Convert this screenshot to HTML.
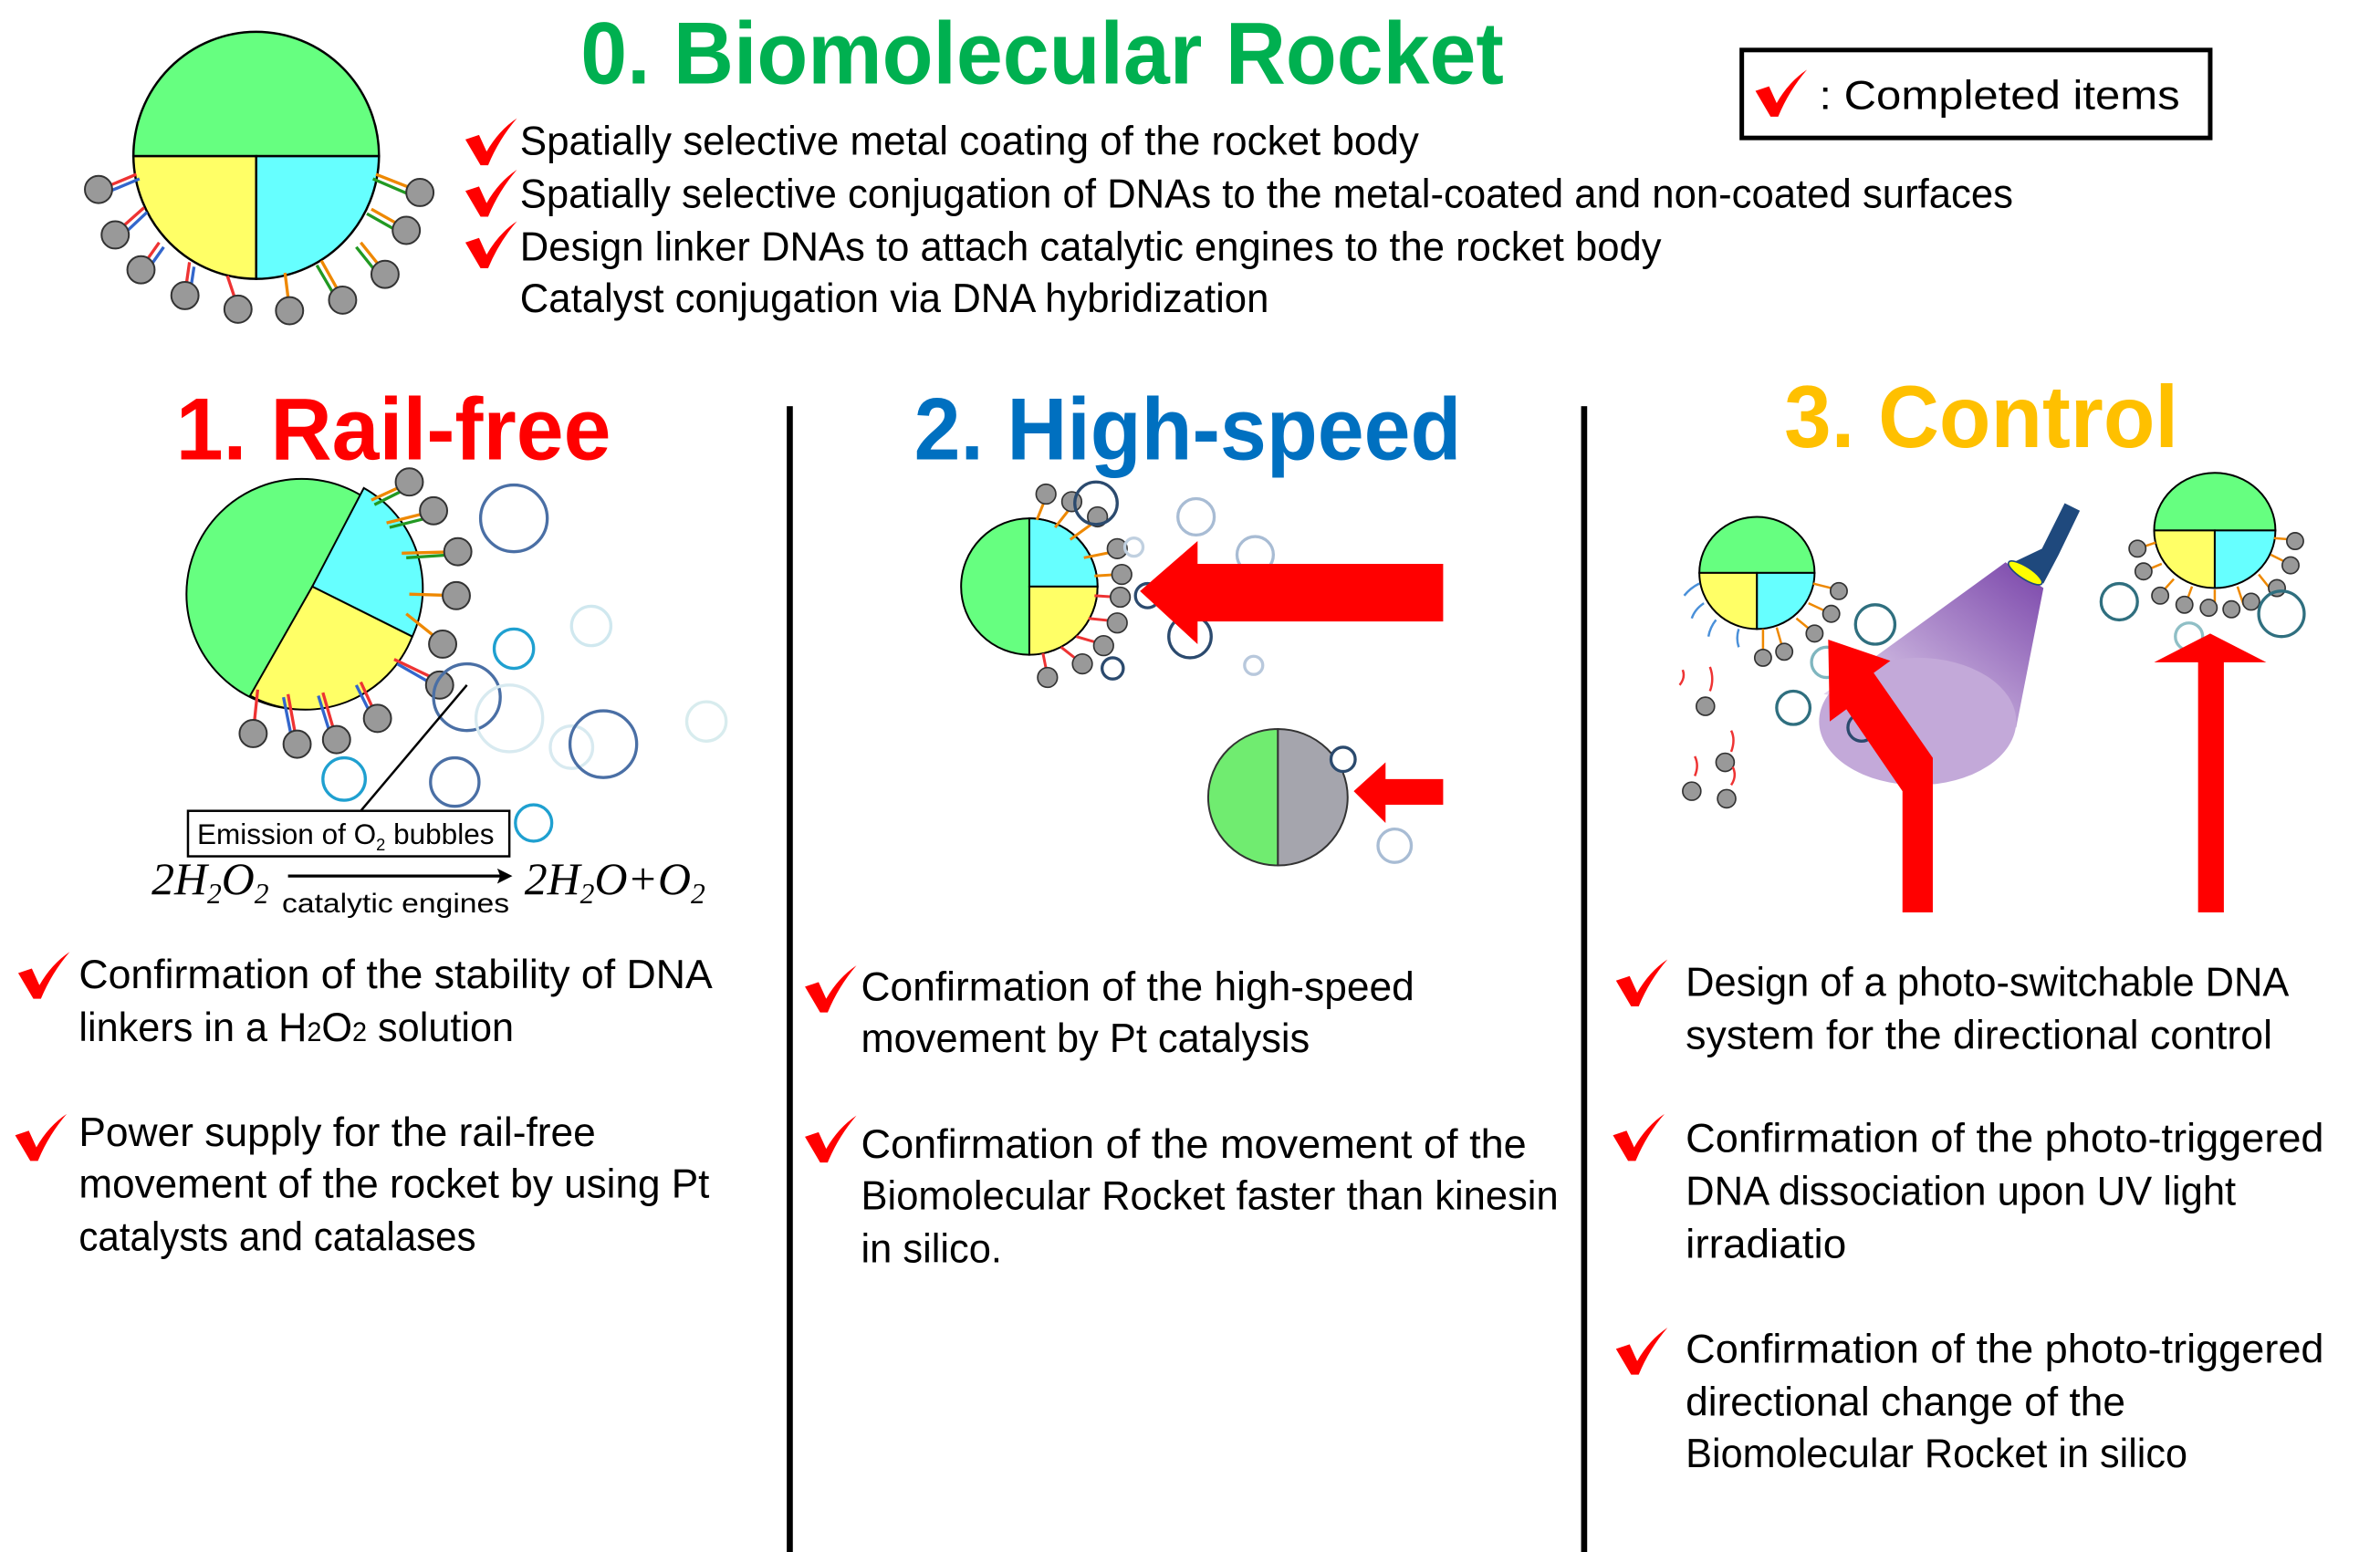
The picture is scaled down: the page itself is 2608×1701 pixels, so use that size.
<!DOCTYPE html>
<html><head><meta charset="utf-8"><style>
html,body{margin:0;padding:0;background:#fff;}
svg{display:block;}
text{font-family:"Liberation Sans",sans-serif;}
.b{font-size:27px;fill:#000;}
.t{font-weight:bold;}
</style></head><body>
<svg width="2608" height="1701" viewBox="0 0 1570 1024" preserveAspectRatio="none" xmlns="http://www.w3.org/2000/svg">
<defs>
<g id="ck"><path d="M0,14 L9,11 L14,22 Q22,8 34,0 Q22,14 15,31 L10,31 Z" fill="#f00"/></g>
<linearGradient id="beam" x1="1" y1="0" x2="0" y2="1"><stop offset="0" stop-color="#6a2fa0"/><stop offset="1" stop-color="#ece2f4"/></linearGradient>
</defs>
<rect width="1570" height="1024" fill="#fff"/>

<text x="383" y="55" class="t" font-size="58" fill="#00b050" textLength="609" lengthAdjust="spacingAndGlyphs">0. Biomolecular Rocket</text>
<rect x="1149" y="33" width="309" height="58" fill="none" stroke="#000" stroke-width="3"/>
<use href="#ck" x="1158" y="46"/>
<text x="1200" y="72" class="b" textLength="238" lengthAdjust="spacingAndGlyphs">: Completed items</text>

<use href="#ck" x="307" y="78"/>
<text x="343" y="102" class="b" textLength="593" lengthAdjust="spacingAndGlyphs">Spatially selective metal coating of the rocket body</text>
<use href="#ck" x="307" y="112"/>
<text x="343" y="137" class="b" textLength="985" lengthAdjust="spacingAndGlyphs">Spatially selective conjugation of DNAs to the metal-coated and non-coated surfaces</text>
<use href="#ck" x="307" y="146"/>
<text x="343" y="172" class="b" textLength="753" lengthAdjust="spacingAndGlyphs">Design linker DNAs to attach catalytic engines to the rocket body</text>
<text x="343" y="206" class="b" textLength="494" lengthAdjust="spacingAndGlyphs">Catalyst conjugation via DNA hybridization</text>

<g stroke="#000" stroke-width="1.5">
<path d="M88,103 A81,82 0 0 1 250,103 Z" fill="#66ff80"/>
<path d="M88,103 L169,103 L169,184 A81,82 0 0 1 88,103 Z" fill="#ffff66"/>
<path d="M250,103 L169,103 L169,184 A81,82 0 0 0 250,103 Z" fill="#66ffff"/>
</g>
<g stroke-width="2" fill="none">
<path d="M90,115 L66,125 M95,137 L77,153 M105,160 L93,177 M125,173 L122,194 M150,182 L157,203" stroke="#e33"/>
<path d="M92,118 L68,128 M97,140 L80,156 M108,163 L96,180 M128,176 L125,196" stroke="#36c"/>
<path d="M248,115 L276,126 M245,138 L268,151 M238,160 L254,180 M212,172 L226,197 M188,180 L191,204" stroke="#e80"/>
<path d="M246,118 L274,130 M242,141 L265,154 M235,163 L251,183 M209,175 L223,199" stroke="#292"/>
</g>
<g fill="#999" stroke="#333" stroke-width="1.2">
<circle cx="65" cy="125" r="9"/><circle cx="76" cy="155" r="9"/><circle cx="93" cy="178" r="9"/><circle cx="122" cy="195" r="9"/><circle cx="157" cy="204" r="9"/><circle cx="191" cy="205" r="9"/><circle cx="226" cy="198" r="9"/><circle cx="254" cy="181" r="9"/><circle cx="268" cy="152" r="9"/><circle cx="277" cy="127" r="9"/>
</g>

<rect x="519" y="268" width="4" height="756" fill="#000"/>
<rect x="1043" y="268" width="4" height="756" fill="#000"/>

<text x="116" y="303" class="t" font-size="58" fill="#f00" textLength="287" lengthAdjust="spacingAndGlyphs">1. Rail-free</text>
<text x="603" y="303" class="t" font-size="58" fill="#0070c0" textLength="361" lengthAdjust="spacingAndGlyphs">2. High-speed</text>
<text x="1177" y="295" class="t" font-size="58" fill="#ffc000" textLength="260" lengthAdjust="spacingAndGlyphs">3. Control</text>

<g stroke="#000" stroke-width="1.2">
<circle cx="199" cy="392" r="76" fill="#66ff80"/>
<path d="M206,387 L240,322 A76,76 0 0 1 272,420 Z" fill="#66ffff"/>
<path d="M206,387 L272,420 A76,76 0 0 1 165,459 Z" fill="#ffff66"/>
</g>
<g stroke-width="2" fill="none">
<path d="M245,330 L271,318 M255,345 L287,337 M265,365 L302,364 M270,392 L301,393 M268,405 L293,425" stroke="#e80"/>
<path d="M247,333 L269,322 M257,348 L285,341 M268,368 L298,366" stroke="#292"/>
<path d="M260,435 L285,447 M238,450 L249,474 M213,457 L222,488 M190,458 L196,491 M170,455 L167,484" stroke="#e33"/>
<path d="M262,438 L283,450 M235,452 L246,474 M210,459 L219,488 M187,460 L193,490" stroke="#36c"/>
</g>
<g fill="#999" stroke="#333" stroke-width="1.2">
<circle cx="270" cy="318" r="9"/><circle cx="286" cy="337" r="9"/><circle cx="302" cy="364" r="9"/><circle cx="301" cy="393" r="9"/><circle cx="292" cy="425" r="9"/><circle cx="290" cy="452" r="9"/><circle cx="249" cy="474" r="9"/><circle cx="222" cy="488" r="9"/><circle cx="196" cy="491" r="9"/><circle cx="167" cy="484" r="9"/>
</g>
<g fill="none" stroke-width="2">
<circle cx="339" cy="342" r="22" stroke="#4a6fa5"/>
<circle cx="339" cy="428" r="13" stroke="#1fa0d0"/>
<circle cx="390" cy="413" r="13" stroke="#d0e8ef"/>
<circle cx="308" cy="460" r="22" stroke="#4a6fa5"/>
<circle cx="336" cy="474" r="22" stroke="#d8eaf0"/>
<circle cx="377" cy="493" r="14" stroke="#d8eaf0"/>
<circle cx="398" cy="491" r="22" stroke="#4a6fa5"/>
<circle cx="466" cy="476" r="13" stroke="#d8ecee"/>
<circle cx="227" cy="514" r="14" stroke="#1fa0d0"/>
<circle cx="300" cy="516" r="16" stroke="#4a6fa5"/>
<circle cx="352" cy="543" r="12" stroke="#1fa0d0"/>
</g>
<line x1="308" y1="452" x2="238" y2="535" stroke="#000" stroke-width="1.5"/>
<rect x="124" y="535" width="212" height="30" fill="#fff" stroke="#000" stroke-width="1.5"/>
<text x="130" y="557" font-size="19" textLength="196" lengthAdjust="spacingAndGlyphs">Emission of O<tspan font-size="11" dy="4">2</tspan><tspan dy="-4"> bubbles</tspan></text>
<text x="100" y="590" font-style="italic" font-size="30" style="font-family:'Liberation Serif',serif">2H<tspan font-size="19" dy="6">2</tspan><tspan dy="-6">O</tspan><tspan font-size="19" dy="6">2</tspan></text>
<line x1="190" y1="578" x2="332" y2="578" stroke="#000" stroke-width="2"/>
<path d="M338,578 L328,573 L330,578 L328,583 Z" fill="#000"/>
<text x="186" y="602" font-size="18" textLength="150" lengthAdjust="spacingAndGlyphs">catalytic engines</text>
<text x="346" y="590" font-style="italic" font-size="30" style="font-family:'Liberation Serif',serif">2H<tspan font-size="19" dy="6">2</tspan><tspan dy="-6">O+O</tspan><tspan font-size="19" dy="6">2</tspan></text>

<g stroke="#000" stroke-width="1.2">
<circle cx="679" cy="387" r="45" fill="#66ff80"/>
<path d="M679,342 A45,45 0 0 1 724,387 L679,387 Z" fill="#66ffff"/>
<path d="M724,387 A45,45 0 0 1 679,432 L679,387 Z" fill="#ffff66"/>
</g>
<g stroke-width="1.8" fill="none">
<path d="M684,343 L690,328 M696,348 L707,334 M706,356 L724,343 M715,368 L735,364 M722,380 L738,379" stroke="#e80"/>
<path d="M722,393 L737,394 M718,408 L737,410 M710,420 L727,425 M700,427 L714,438 M688,431 L691,446" stroke="#e33"/>
</g>
<g fill="#999" stroke="#333" stroke-width="1">
<circle cx="690" cy="326" r="6.5"/><circle cx="707" cy="331" r="6.5"/><circle cx="724" cy="341" r="6.5"/><circle cx="737" cy="362" r="6.5"/><circle cx="740" cy="379" r="6.5"/><circle cx="739" cy="394" r="6.5"/><circle cx="737" cy="411" r="6.5"/><circle cx="728" cy="426" r="6.5"/><circle cx="714" cy="438" r="6.5"/><circle cx="691" cy="447" r="6.5"/>
</g>
<g fill="none" stroke-width="2">
<circle cx="723" cy="332" r="14" stroke="#2b4a6e"/>
<circle cx="789" cy="341" r="12" stroke="#a8bcd4"/>
<circle cx="828" cy="366" r="12" stroke="#a8bcd4"/>
<circle cx="748" cy="361" r="6" stroke="#c0d0e0"/>
<circle cx="757" cy="393" r="8" stroke="#2b4a6e"/>
<circle cx="785" cy="420" r="14" stroke="#2b4a6e"/>
<circle cx="827" cy="439" r="6" stroke="#b8c8dc"/>
<circle cx="734" cy="441" r="7" stroke="#2b4a6e"/>
</g>
<path d="M752,390 L790,357 L790,372 L952,372 L952,410 L790,410 L790,425 Z" fill="#f00"/>
<g stroke="#333" stroke-width="1.2">
<path d="M843,481 A46,45 0 0 0 843,571 Z" fill="#70ec70"/>
<path d="M843,481 A46,45 0 0 1 843,571 Z" fill="#a5a5ad"/>
</g>
<circle cx="886" cy="501" r="8" fill="#fff" stroke="#2b4a6e" stroke-width="2"/>
<circle cx="920" cy="558" r="11" fill="none" stroke="#a8bcd4" stroke-width="2"/>
<path d="M893,522 L914,503 L914,514 L952,514 L952,531 L914,531 L914,543 Z" fill="#f00"/>

<!-- Control -->
<path d="M1323,371 L1348,388 L1330,480 L1203,458 Z" fill="url(#beam)" opacity="0.9"/>
<ellipse cx="1265" cy="476" rx="65" ry="42" fill="#c3a9d9"/>
<path d="M1362,332 L1372,337 L1358,366 L1348,385 L1326,372 L1347,362 Z" fill="#1f497d"/>
<ellipse cx="1336" cy="378" rx="13" ry="4" transform="rotate(33 1336 378)" fill="#ffff00" stroke="#1f497d"/>
<g stroke="#000" stroke-width="1.2">
<path d="M1121,378 A38,37 0 0 1 1197,378 Z" fill="#66ff80"/>
<path d="M1121,378 L1159,378 L1159,415 A38,37 0 0 1 1121,378 Z" fill="#ffff66"/>
<path d="M1197,378 L1159,378 L1159,415 A38,37 0 0 0 1197,378 Z" fill="#66ffff"/>
</g>
<g stroke="#4a90d9" stroke-width="1.5" fill="none">
<path d="M1121,385 q-6,3 -10,8 M1124,398 q-6,4 -8,10 M1132,409 q-4,5 -5,11 M1147,415 q-2,6 0,12"/>
</g>
<g stroke="#e80" stroke-width="1.5" fill="none">
<path d="M1196,385 L1212,389 M1193,398 L1208,405 M1185,408 L1196,417 M1172,414 L1176,428 M1163,415 L1163,432"/>
</g>
<g fill="#999" stroke="#333" stroke-width="1">
<circle cx="1213" cy="390" r="5.5"/><circle cx="1208" cy="405" r="5.5"/><circle cx="1197" cy="418" r="5.5"/><circle cx="1177" cy="430" r="5.5"/><circle cx="1163" cy="434" r="5.5"/>
<circle cx="1125" cy="466" r="6"/><circle cx="1138" cy="503" r="6"/><circle cx="1116" cy="522" r="6"/><circle cx="1139" cy="527" r="6"/>
</g>
<g stroke="#e33" stroke-width="1.5" fill="none">
<path d="M1108,452 q4,-5 2,-10 M1128,456 q3,-8 0,-16 M1142,496 q3,-8 0,-14 M1118,512 q3,-7 0,-13 M1142,518 q4,-6 1,-12"/>
</g>
<g stroke="#000" stroke-width="1.2">
<path d="M1421,350 A40,38 0 0 1 1501,350 Z" fill="#66ff80"/>
<path d="M1421,350 L1461,350 L1461,388 A40,38 0 0 1 1421,350 Z" fill="#ffff66"/>
<path d="M1501,350 L1461,350 L1461,388 A40,38 0 0 0 1501,350 Z" fill="#66ffff"/>
</g>
<g stroke="#e80" stroke-width="1.5" fill="none">
<path d="M1422,358 L1410,362 M1426,372 L1414,377 M1434,382 L1425,392 M1446,387 L1442,398 M1461,389 L1461,400 M1476,387 L1480,399 M1490,379 L1498,389 M1498,366 L1510,372 M1500,355 L1512,356"/>
</g>
<g fill="#999" stroke="#333" stroke-width="1">
<circle cx="1410" cy="362" r="5.5"/><circle cx="1414" cy="377" r="5.5"/><circle cx="1425" cy="393" r="5.5"/><circle cx="1441" cy="399" r="5.5"/><circle cx="1457" cy="401" r="5.5"/><circle cx="1472" cy="402" r="5.5"/><circle cx="1485" cy="397" r="5.5"/><circle cx="1502" cy="388" r="5.5"/><circle cx="1511" cy="373" r="5.5"/><circle cx="1514" cy="357" r="5.5"/>
</g>
<g fill="none" stroke-width="2">
<circle cx="1237" cy="412" r="13" stroke="#2f6f7f"/>
<circle cx="1205" cy="437" r="10" stroke="#7fb6bf"/>
<circle cx="1183" cy="467" r="11" stroke="#2f6f7f"/>
<circle cx="1228" cy="480" r="9" stroke="#2b4a6e"/>
<circle cx="1398" cy="397" r="12" stroke="#2f6f7f"/>
<circle cx="1505" cy="405" r="15" stroke="#2f6f7f"/>
<circle cx="1444" cy="420" r="9" stroke="#8fbfc6"/>
</g>
<path d="M1255,602 L1255,522 L1218,468 L1207,476 L1206,422 L1247,436 L1236,444 L1275,500 L1275,602 Z" fill="#f00"/>
<path d="M1450,602 L1450,437 L1421,437 L1458,418 L1495,437 L1467,437 L1467,602 Z" fill="#f00"/>

<use href="#ck" x="12" y="628"/>
<text x="52" y="652" class="b" textLength="418" lengthAdjust="spacingAndGlyphs">Confirmation of the stability of DNA</text>
<text x="52" y="687" class="b" textLength="287" lengthAdjust="spacingAndGlyphs">linkers in a H<tspan font-size="18">2</tspan>O<tspan font-size="18">2</tspan> solution</text>
<use href="#ck" x="10" y="735"/>
<text x="52" y="756" class="b" textLength="341" lengthAdjust="spacingAndGlyphs">Power supply for the rail-free</text>
<text x="52" y="790" class="b" textLength="416" lengthAdjust="spacingAndGlyphs">movement of the rocket by using Pt</text>
<text x="52" y="825" class="b" textLength="262" lengthAdjust="spacingAndGlyphs">catalysts and catalases</text>

<use href="#ck" x="531" y="637"/>
<text x="568" y="660" class="b" textLength="365" lengthAdjust="spacingAndGlyphs">Confirmation of the high-speed</text>
<text x="568" y="694" class="b" textLength="296" lengthAdjust="spacingAndGlyphs">movement by Pt catalysis</text>
<use href="#ck" x="531" y="736"/>
<text x="568" y="764" class="b" textLength="439" lengthAdjust="spacingAndGlyphs">Confirmation of the movement of the</text>
<text x="568" y="798" class="b" textLength="460" lengthAdjust="spacingAndGlyphs">Biomolecular Rocket faster than kinesin</text>
<text x="568" y="833" class="b" textLength="93" lengthAdjust="spacingAndGlyphs">in silico.</text>

<use href="#ck" x="1066" y="633"/>
<text x="1112" y="657" class="b" textLength="398" lengthAdjust="spacingAndGlyphs">Design of a photo-switchable DNA</text>
<text x="1112" y="692" class="b" textLength="387" lengthAdjust="spacingAndGlyphs">system for the directional control</text>
<use href="#ck" x="1064" y="735"/>
<text x="1112" y="760" class="b" textLength="421" lengthAdjust="spacingAndGlyphs">Confirmation of the photo-triggered</text>
<text x="1112" y="795" class="b" textLength="363" lengthAdjust="spacingAndGlyphs">DNA dissociation upon UV light</text>
<text x="1112" y="830" class="b" textLength="106" lengthAdjust="spacingAndGlyphs">irradiatio</text>
<use href="#ck" x="1066" y="876"/>
<text x="1112" y="899" class="b" textLength="421" lengthAdjust="spacingAndGlyphs">Confirmation of the photo-triggered</text>
<text x="1112" y="934" class="b" textLength="290" lengthAdjust="spacingAndGlyphs">directional change of the</text>
<text x="1112" y="968" class="b" textLength="331" lengthAdjust="spacingAndGlyphs">Biomolecular Rocket in silico</text>
</svg>
</body></html>
